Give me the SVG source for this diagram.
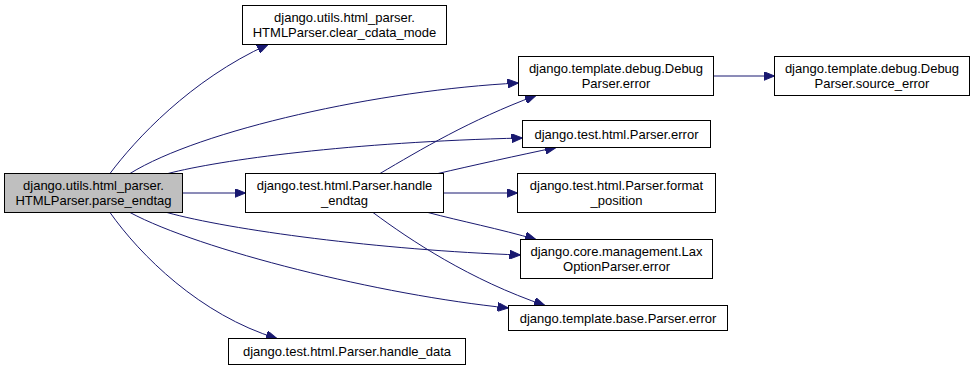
<svg xmlns="http://www.w3.org/2000/svg" width="975" height="373" viewBox="0 0 975 373">
  <style>
    .node rect { fill: #ffffff; stroke: #000000; stroke-width: 1; }
    .node.root rect { fill: #bfbfbf; }
    .node text { font-family: "Liberation Sans", Arial, sans-serif; font-size: 13px; fill: #000000; text-anchor: middle; }
    .edges path { fill: none; stroke: #191970; stroke-width: 1; marker-end: url(#arrow); }
  </style>
  <defs>
    <marker id="arrow" viewBox="0 0 11 9" markerWidth="11" markerHeight="9" markerUnits="userSpaceOnUse" refX="11" refY="4.5" orient="auto">
      <path d="M0,0 L11,4.5 L0,9 Z" fill="#191970" stroke="#191970"/>
    </marker>
  </defs>
  <rect width="975" height="373" fill="#ffffff"/>

  <g class="edges" id="edges">
    <path d="M110,173.5 C135,140 190,80 268,44.5"/>
    <path d="M130,173.5 C200,130 380,90 518.5,83"/>
    <path d="M168,173.5 C220,160 350,142 522.5,138"/>
    <path d="M182.5,193 L245.5,193"/>
    <path d="M167,212.5 C230,230 380,250 520.5,255"/>
    <path d="M130,212.5 C200,250 380,295 508.5,308"/>
    <path d="M110,212.5 C140,255 200,315 277,338.5"/>
    <path d="M380,173.5 C420,150 470,120 536,95.5"/>
    <path d="M438,173.5 C470,166 520,155 556,147.5"/>
    <path d="M443.5,193 L517.5,193"/>
    <path d="M428,212.5 C460,221 500,229 536,239.5"/>
    <path d="M373,212.5 C410,240 470,280 545,305.5"/>
    <path d="M713.5,76 L774.5,76"/>
  </g>

  <g class="node root" id="node_parse_endtag">
    <rect x="4.5" y="173.5" width="178" height="39"/>
    <text x="93.5" y="190">django.utils.html_parser.</text>
    <text x="93.5" y="205">HTMLParser.parse_endtag</text>
  </g>
  <g class="node" id="node_clear_cdata_mode">
    <rect x="242.5" y="5.5" width="204" height="39"/>
    <text x="344.5" y="22">django.utils.html_parser.</text>
    <text x="344.5" y="37">HTMLParser.clear_cdata_mode</text>
  </g>
  <g class="node" id="node_debug_error">
    <rect x="518.5" y="56.5" width="195" height="39"/>
    <text x="616" y="73">django.template.debug.Debug</text>
    <text x="616" y="88">Parser.error</text>
  </g>
  <g class="node" id="node_debug_source_error">
    <rect x="774.5" y="56.5" width="195" height="39"/>
    <text x="872" y="73">django.template.debug.Debug</text>
    <text x="872" y="88">Parser.source_error</text>
  </g>
  <g class="node" id="node_html_error">
    <rect x="522.5" y="120.5" width="188" height="27"/>
    <text x="616.5" y="138.5">django.test.html.Parser.error</text>
  </g>
  <g class="node" id="node_handle_endtag">
    <rect x="245.5" y="173.5" width="198" height="39"/>
    <text x="344.5" y="190">django.test.html.Parser.handle</text>
    <text x="344.5" y="205">_endtag</text>
  </g>
  <g class="node" id="node_format_position">
    <rect x="517.5" y="173.5" width="198" height="39"/>
    <text x="616.5" y="190">django.test.html.Parser.format</text>
    <text x="616.5" y="205">_position</text>
  </g>
  <g class="node" id="node_lax_error">
    <rect x="520.5" y="239.5" width="192" height="39"/>
    <text x="616.5" y="256">django.core.management.Lax</text>
    <text x="616.5" y="271">OptionParser.error</text>
  </g>
  <g class="node" id="node_base_error">
    <rect x="508.5" y="305.5" width="219" height="25"/>
    <text x="618" y="322.5">django.template.base.Parser.error</text>
  </g>
  <g class="node" id="node_handle_data">
    <rect x="228.5" y="338.5" width="237" height="26"/>
    <text x="347" y="356">django.test.html.Parser.handle_data</text>
  </g>
</svg>
